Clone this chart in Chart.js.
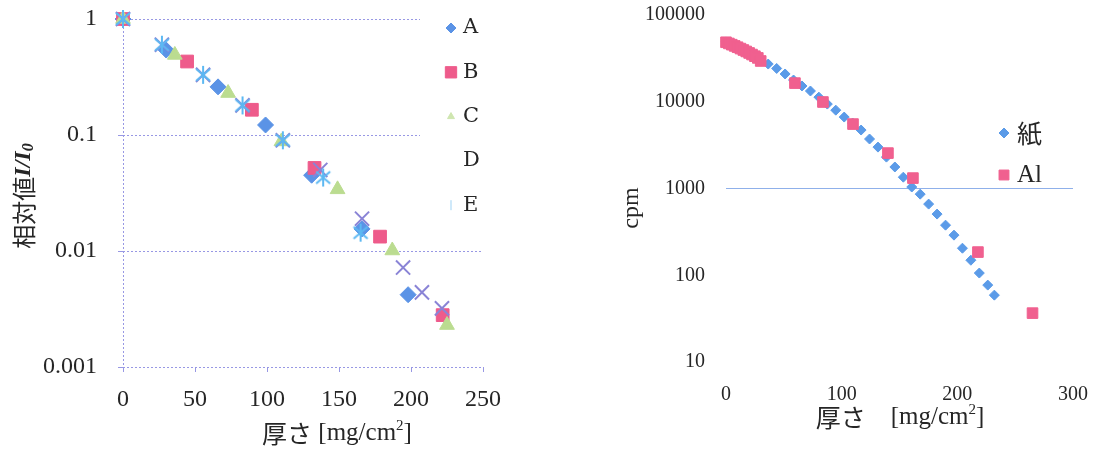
<!DOCTYPE html>
<html>
<head>
<meta charset="utf-8">
<script src="https://cdn.jsdelivr.net/npm/chart.js@4.4.0/dist/chart.umd.min.js"></script>
<style>
  html, body { margin: 0; padding: 0; background: #fff; }
  #wrap { position: relative; width: 1093px; height: 451px; overflow: hidden; }
  canvas { position: absolute; top: 0; }
  #left { left: 0; }
  #right { left: 546px; }
</style>
</head>
<body>
<div id="wrap">
  <canvas id="left" width="546" height="451"></canvas>
  <canvas id="right" width="547" height="451"></canvas>
</div>
<script>
// left chart: relative value I/I0 vs thickness, five samples
const seriesNames = ["A", "B", "C", "D", "E"]
const thicknessA = [0, 30, 66, 99, 131, 166, 198]
const ratioA = [1, 0.54, 0.26, 0.122, 0.045, 0.0155, 0.0042]
const thicknessB = [0, 44.5, 89.5, 133, 178.5, 222]
const ratioB = [1, 0.43, 0.165, 0.052, 0.0133, 0.0028]
const thicknessC = [0, 36, 73, 110, 149, 187, 225]
const ratioC = [1, 0.49, 0.23, 0.088, 0.034, 0.0101, 0.0023]
const thicknessD = [0, 27, 55.6, 83, 111, 137, 166, 194.5, 207.6, 221.5]
const ratioD = [1, 0.6, 0.33, 0.18, 0.09, 0.05, 0.019, 0.0072, 0.0044, 0.0032]
const thicknessE = [0, 27, 55.6, 83, 111, 139, 165]
const ratioE = [1, 0.6, 0.33, 0.18, 0.09, 0.043, 0.0144]
const ratioTicks = [0.001, 0.01, 0.1, 1]
const ratioTickLabels = ["0.001", "0.01", "0.1", "1"]

// right chart: cpm vs thickness, paper and aluminium
const absorberNames = ["紙", "Al"]
const paperThickness = [0, 7.3, 14.6, 21.9, 29.2, 36.5, 43.8, 51.1, 58.4, 65.7, 73, 80.3, 87.6, 94.9, 102.2, 109.5, 116.8, 124.1, 131.4, 138.7, 146, 153.3, 160.6, 167.9, 175.2, 182.5, 189.8, 197.1, 204.4, 211.7, 219, 226.3, 232]
const paperCpm = [48900, 43900, 39400, 35500, 31100, 27200, 24200, 20900, 17800, 15200, 13300, 11300, 9400, 8000, 6660, 5680, 4720, 3720, 3000, 2300, 1770, 1350, 1040, 861, 661, 507, 378, 290, 205, 149, 106, 77, 59]
const alThickness = [0, 2.5, 5, 7.5, 10, 12.5, 15, 17.5, 20, 22.5, 25, 27.5, 30, 59.6, 83.8, 109.8, 140, 161.6, 217.8, 265]
const alCpm = [48500, 47000, 45500, 44000, 42500, 41000, 39500, 38000, 36500, 35000, 33500, 32000, 29500, 16400, 9930, 5530, 2560, 1318, 185, 36.6]
const cpmTicks = [10, 100, 1000, 10000, 100000]
const cpmTickLabels = ["10", "100", "1000", "10000", "100000"]

const TEXT = "#262626"
const GRID = "#9898e4"
const SERIF = '"Liberation Serif", "Times New Roman", serif'
const CJK = '"Noto Sans CJK JP", sans-serif'

Chart.defaults.font.family = SERIF
Chart.defaults.color = TEXT

const toPoints = (xs, ys) => xs.map((x, i) => ({ x, y: ys[i] }))

// keep tick labels from pushing the plot area in; padding is set by hand
const noLabelPadding = s => {
  s.paddingTop = 0
  s.paddingBottom = 0
  s.paddingLeft = 0
  s.paddingRight = 0
}

// excel-like asterisk marker (x with a vertical stroke)
function starMarker(color) {
  const c = document.createElement("canvas")
  c.width = 20
  c.height = 20
  const g = c.getContext("2d")
  g.strokeStyle = color
  g.lineWidth = 2
  g.beginPath()
  g.moveTo(3, 4); g.lineTo(17, 16)
  g.moveTo(17, 4); g.lineTo(3, 16)
  g.moveTo(10, 1); g.lineTo(10, 19)
  g.stroke()
  return c
}

function drawRuns(ctx, title) {
  ctx.save()
  ctx.translate(title.x, title.y)
  if (title.rotate) ctx.rotate(title.rotate)
  ctx.textBaseline = "middle"
  ctx.fillStyle = TEXT
  const widths = title.runs.map(run => {
    ctx.font = run.font
    return ctx.measureText(run.text).width
  })
  let x = -widths.reduce((a, b) => a + b, 0) / 2
  title.runs.forEach((run, i) => {
    ctx.font = run.font
    ctx.fillText(run.text, x, run.dy || 0)
    x += widths[i]
  })
  ctx.restore()
}

const overlay = {
  id: "overlay",
  beforeDatasetsDraw(chart, args, opts) {
    const box = opts.legend && opts.legend.box
    if (!box) return
    chart.ctx.save()
    chart.ctx.fillStyle = "#fff"
    chart.ctx.fillRect(box.x, box.y, box.w, box.h)
    chart.ctx.restore()
  },
  afterDraw(chart, args, opts) {
    const ctx = chart.ctx
    const legend = opts.legend
    if (legend) {
      legend.items.forEach((item, i) => {
        const ds = chart.data.datasets[i]
        const y = legend.y + i * legend.gap
        if (item.marker) {
          ctx.save()
          ctx.fillStyle = item.color || ds.pointBackgroundColor
          ctx.strokeStyle = item.color || ds.pointBorderColor
          ctx.lineWidth = item.lineWidth || 1
          Chart.helpers.drawPoint(ctx, { pointStyle: item.marker, radius: item.radius, rotation: item.rotation || 0, borderWidth: item.lineWidth || 1 }, legend.markerX, y)
          ctx.restore()
        }
        ctx.save()
        ctx.fillStyle = TEXT
        ctx.font = item.font || legend.font
        ctx.textBaseline = "middle"
        ctx.fillText(ds.label, legend.textX, y)
        ctx.restore()
      })
    }
    ;(opts.titles || []).forEach(t => drawRuns(ctx, t))
  }
}

const base = {
  responsive: false,
  animation: false,
  events: [],
  plugins: { legend: { display: false }, tooltip: { enabled: false } }
}

// ---------- left chart ----------
const leftSets = [
  { label: seriesNames[0], data: toPoints(thicknessA, ratioA), pointStyle: "rectRot", pointRadius: 8, pointBackgroundColor: "#5b93e6", pointBorderColor: "#5b93e6", pointBorderWidth: 1, order: 5, clip: false },
  { label: seriesNames[1], data: toPoints(thicknessB, ratioB), pointStyle: "rect", pointRadius: 9, pointBackgroundColor: "#ee5b8b", pointBorderColor: "#ee5b8b", pointBorderWidth: 1, order: 4, clip: false },
  { label: seriesNames[2], data: toPoints(thicknessC, ratioC), pointStyle: "triangle", pointRadius: 8.5, pointBackgroundColor: "#bbdc90", pointBorderColor: "#bbdc90", pointBorderWidth: 1, order: 3, clip: false },
  { label: seriesNames[3], data: toPoints(thicknessD, ratioD), pointStyle: "crossRot", pointRadius: 10, pointBackgroundColor: "#8a84d6", pointBorderColor: "#8a84d6", pointBorderWidth: 2, order: 2, clip: false },
  { label: seriesNames[4], data: toPoints(thicknessE, ratioE), pointStyle: starMarker("#5cb8f2"), pointBackgroundColor: "#5cb8f2", pointBorderColor: "#5cb8f2", order: 1, clip: false }
]

new Chart(document.getElementById("left"), {
  type: "scatter",
  data: { datasets: leftSets },
  plugins: [overlay],
  options: {
    ...base,
    layout: { padding: { left: 0, top: 19, right: 63, bottom: 0 } },
    scales: {
      x: {
        type: "linear",
        min: 0,
        max: 250,
        ticks: { stepSize: 50, padding: 13, font: { size: 24 } },
        grid: {
          color: c => (c.tick && c.tick.value === 0 ? GRID : "rgba(0,0,0,0)"),
          tickColor: GRID,
          tickLength: 5
        },
        border: { display: false, dash: [2, 2] },
        afterFit: s => { s.height = 84; noLabelPadding(s) }
      },
      y: {
        type: "logarithmic",
        min: 0.001,
        max: 1,
        afterBuildTicks: s => { s.ticks = ratioTicks.map(value => ({ value })) },
        ticks: { padding: 21, font: { size: 24 }, callback: (v, i) => ratioTickLabels[i] },
        grid: { color: GRID, tickColor: GRID, tickLength: 5 },
        border: { display: false, dash: [2, 2] },
        afterFit: s => { s.width = 123; noLabelPadding(s) }
      }
    },
    plugins: {
      ...base.plugins,
      overlay: {
        legend: {
          box: { x: 420, y: 4, w: 80, h: 222 },
          markerX: 451,
          textX: 463,
          y: 28,
          gap: 44.3,
          font: '21px "DejaVu Serif", serif',
          items: [
            { marker: "rectRot", radius: 5 },
            { marker: "rect", radius: 8 },
            { marker: "triangle", radius: 4, color: "#cfe6b0" },
            { marker: null },
            { marker: "line", radius: 5, rotation: 90, color: "#9fd3f5" }
          ]
        },
        titles: [
          {
            x: 24, y: 196, rotate: -Math.PI / 2,
            runs: [
              { text: "相対値", font: "24px " + CJK },
              { text: "I/I", font: "italic bold 24px " + SERIF },
              { text: "0", font: "italic bold 16px " + SERIF, dy: 5 }
            ]
          },
          {
            x: 337, y: 433,
            runs: [
              { text: "厚さ", font: "25px " + CJK },
              { text: " [mg/cm", font: "25px " + SERIF },
              { text: "2", font: "15px " + SERIF, dy: -7 },
              { text: "]", font: "25px " + SERIF }
            ]
          }
        ]
      }
    }
  }
})

// ---------- right chart ----------
const rightSets = [
  { label: absorberNames[0], data: toPoints(paperThickness, paperCpm), pointStyle: "rectRot", pointRadius: 5, pointBackgroundColor: "#5b9be8", pointBorderColor: "#5b9be8", pointBorderWidth: 1, order: 2, clip: false },
  { label: absorberNames[1], data: toPoints(alThickness, alCpm), pointStyle: "rect", pointRadius: 7.5, pointBackgroundColor: "#f0608f", pointBorderColor: "#f0608f", pointBorderWidth: 1, order: 1, clip: false }
]

new Chart(document.getElementById("right"), {
  type: "scatter",
  data: { datasets: rightSets },
  plugins: [overlay],
  options: {
    ...base,
    layout: { padding: { left: 0, top: 15, right: 20, bottom: 0 } },
    scales: {
      x: {
        type: "linear",
        min: 0,
        max: 300,
        ticks: { stepSize: 100, padding: 13, font: { size: 20 } },
        grid: { display: false },
        border: { display: false },
        afterFit: s => { s.height = 89; noLabelPadding(s) }
      },
      y: {
        type: "logarithmic",
        min: 10,
        max: 100000,
        afterBuildTicks: s => { s.ticks = cpmTicks.map(value => ({ value })) },
        ticks: { padding: 21, font: { size: 20 }, callback: (v, i) => cpmTickLabels[i] },
        grid: {
          color: c => (c.tick && c.tick.value === 1000 ? "#8fb0ea" : "rgba(0,0,0,0)"),
          drawTicks: false
        },
        border: { display: false },
        afterFit: s => { s.width = 180; noLabelPadding(s) }
      }
    },
    plugins: {
      ...base.plugins,
      overlay: {
        legend: {
          markerX: 458,
          textX: 471,
          y: 133,
          gap: 42,
          font: "25px " + SERIF,
          items: [
            { marker: "rectRot", radius: 5, font: "25px " + CJK },
            { marker: "rect", radius: 7 }
          ]
        },
        titles: [
          {
            x: 86, y: 208, rotate: -Math.PI / 2,
            runs: [{ text: "cpm", font: "24px " + SERIF }]
          },
          {
            x: 354, y: 417,
            runs: [
              { text: "厚さ　", font: "25px " + CJK },
              { text: "[mg/cm", font: "25px " + SERIF },
              { text: "2", font: "15px " + SERIF, dy: -7 },
              { text: "]", font: "25px " + SERIF }
            ]
          }
        ]
      }
    }
  }
})
</script>
</body>
</html>
